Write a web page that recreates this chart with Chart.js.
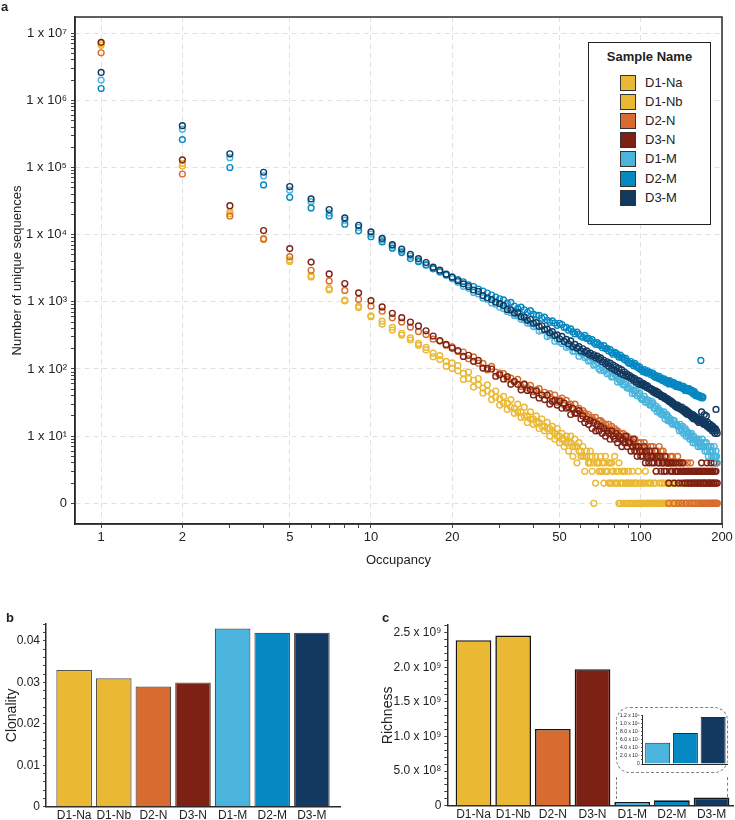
<!DOCTYPE html>
<html>
<head>
<meta charset="utf-8">
<title>Occupancy, clonality and richness</title>
<script src="https://cdn.jsdelivr.net/npm/chart.js@4.4.1/dist/chart.umd.min.js"></script>
<style>
  html, body { margin: 0; padding: 0; background: #fff; }
  body { font-family: "Liberation Sans", Arial, Helvetica, sans-serif; color: #222; }
  #fig { position: relative; width: 735px; height: 820px; overflow: hidden; }
  #fig canvas { position: absolute; }
  .tag { position: absolute; font-weight: bold; font-size: 13px; line-height: 13px; }
  #legend { position: absolute; left: 588px; top: 42px; width: 123px; height: 183px; box-sizing: border-box;
            border: 1.5px solid #222; background: #fff; }
  #legend .ttl { position: absolute; left: 0; right: 0; top: 6px; text-align: center; font-weight: bold; font-size: 13px; line-height: 16px; }
  #legend .sw { position: absolute; left: 31px; width: 16px; height: 16px; box-sizing: border-box; border: 1px solid #333; }
  #legend .lb { position: absolute; left: 56px; font-size: 13px; line-height: 16px; }
  #zoomBox { position: absolute; left: 616px; top: 707px; width: 112px; height: 66px; box-sizing: border-box;
             border: 1.5px dashed #808080; border-radius: 14px; }
  .lead { position: absolute; width: 0; border-left: 1.5px dashed #808080; }
</style>
</head>
<body>
<div id="fig">
  <canvas id="cA" width="735" height="575" style="left:0;top:0"></canvas>
  <canvas id="cB" width="365" height="220" style="left:0;top:600px"></canvas>
  <canvas id="cC" width="370" height="220" style="left:365px;top:600px"></canvas>
  <div id="zoomBox"></div>
  <div class="lead" style="left:616px;top:777px;height:22px"></div>
  <div class="lead" style="left:727px;top:777px;height:20px"></div>
  <canvas id="cI" width="118" height="64" style="left:612px;top:706px"></canvas>
  <div id="legend"><div class="ttl">Sample Name</div></div>
  <div class="tag" style="left:1px;top:0">a</div>
  <div class="tag" style="left:6px;top:611px">b</div>
  <div class="tag" style="left:382px;top:611px">c</div>
</div>
<script>
'use strict';

// ── Datos ──────────────────────────────────────────────
const occupancy = [
  1, 2, 3, 4, 5, 6, 7, 8, 9, 10,
  11, 12, 13, 14, 15, 16, 17, 18, 19, 20,
  21, 22, 23, 24, 25, 26, 27, 28, 29, 30,
  31, 32, 33, 34, 35, 36, 37, 38, 39, 40,
  41, 42, 43, 44, 45, 46, 47, 48, 49, 50,
  51, 52, 53, 54, 55, 56, 57, 58, 59, 60,
  61, 62, 63, 64, 65, 66, 67, 68, 69, 70,
  71, 72, 73, 74, 75, 76, 77, 78, 79, 80,
  81, 82, 83, 84, 85, 86, 87, 88, 89, 90,
  91, 92, 93, 94, 95, 96, 97, 98, 99, 100,
  101, 102, 103, 104, 105, 106, 107, 108, 109, 110,
  111, 112, 113, 114, 115, 116, 117, 118, 119, 120,
  121, 122, 123, 124, 125, 126, 127, 128, 129, 130,
  131, 132, 133, 134, 135, 136, 137, 138, 139, 140,
  141, 142, 143, 144, 145, 146, 147, 148, 149, 150,
  151, 152, 153, 154, 155, 156, 157, 158, 159, 160,
  161, 162, 163, 164, 165, 166, 167, 168, 169, 170,
  171, 172, 173, 174, 175, 176, 177, 178, 179, 180,
  181, 182, 183, 184, 185, 186, 187, 188, 189, 190,
  191, 192,
];

const d1Na = [
  7000000, 115000, 22000, 8800, 4200, 2450, 1580, 1060, 860, 620,
  515, 417, 340, 290, 240, 210, 172, 158, 130, 123,
  112, 86, 90, 68, 72, 52, 58, 43, 47, 36,
  39, 31, 35, 26, 30, 23, 27, 20, 23, 18,
  20, 16, 18, 14, 16, 13, 14, 11, 13, 10,
  11, 9, 10, 8, 10, 7, 9, 7, 8, 6,
  7, 5, 6, 4, 6, 5, 1, 5, 4, 4,
  5, 3, 4, 5, 3, 4, 2, 4, 3, 5,
  3, 2, 4, 1, 3, 2, 3, 1, 2, 3,
  2, 1, 3, 1, 2, 2, 1, 3, 1, 2,
  1, 2, 1, 3, 1, 2, 1, 1, 2, 1,
  1, 2, 1, 3, 1, 1, 2, 1, 1, 2,
  1, 1, 2, 1, 1, 1, 2, 1, 1, 2,
  1, 1, 1, 2, 1, 1, 1, 1, 2, 1,
  1, 1, 1, 2, 1, 1, 1, 1, 1, 2,
  1, 1, 1, 1, 1, 1, 2, 1, 1, 1,
  1, 1, 1, 1, 2, 1, 1, 1, 1, 1,
  1, 1, 1, 1, 2, 1, 1, 1, 1, 1,
  1, 1, 1, 1, 1, 1, 1, 1, 1, 1,
  1, 1,
];

const d1Nb = [
  6600000, 105000, 20500, 8500, 4000, 2350, 1500, 1030, 820, 600,
  467, 380, 320, 270, 225, 192, 152, 138, 110, 102,
  94, 70, 72, 54, 58, 44, 47, 35, 38, 29,
  31, 25, 27, 22, 23, 19, 20, 16, 18, 15,
  16, 13, 14, 12, 13, 10, 12, 9, 10, 8,
  9, 7, 8, 6, 8, 5, 7, 4, 6, 5,
  5, 3, 5, 4, 4, 3, 4, 2, 4, 3,
  3, 4, 2, 3, 3, 2, 4, 2, 3, 2,
  2, 3, 1, 2, 2, 1, 3, 2, 1, 2,
  1, 2, 2, 1, null, 2, 1, 1, 2, 1,
  1, 1, 2, null, 1, 1, 1, 2, 1, null,
  1, 1, 2, 1, 1, null, 1, 1, 1, 2,
  1, null, 1, 1, 2, 1, null, 1, 1, 1,
  1, 2, 1, null, 1, 1, 1, 1, null, 1,
  1, 1, null, 1, 1, 1, 2, 1, null, 1,
  1, 1, 1, null, 1, 1, 1, 2, 1, 1,
  null, 1, 1, 1, 1, null, 1, 1, 1, 2,
  1, null, 1, 1, 1, 1, 1, null, 1, 1,
  1, 1, null, 1, 1, 1, 1, null, 1, 1,
  1, 1,
];

const d2N = [
  5100000, 80000, 19000, 8600, 4700, 2950, 2050, 1480, 1090, 860,
  725, 578, 500, 420, 360, 325, 278, 260, 226, 214,
  182, 179, 142, 151, 122, 121, 97, 109, 90, 87,
  85, 71, 73, 65, 70, 55, 60, 53, 57, 46,
  49, 51, 41, 45, 40, 43, 36, 41, 32, 35,
  37, 29, 34, 29, 30, 25, 30, 25, 26, 22,
  24, 22, 20, 21, 18, 19, 17, 19, 15, 17,
  17, 16, 14, 15, 13, 15, 12, 14, 11, 13,
  12, 12, 10, 11, 9, 11, 10, 8, 10, 9,
  9, 9, 7, 8, 9, 7, 6, 8, 7, 8,
  7, 6, 8, 6, 5, 7, 6, 5, 7, 6,
  7, 5, 6, 5, 6, 5, 7, 5, 6, 5,
  6, 4, 5, 5, 4, 4, 1, 4, 5, 3,
  5, 4, 1, 4, 3, 3, 5, 1, 4, 3,
  4, 1, 3, 4, 3, 2, 1, 3, 4, 2,
  3, 1, 4, 2, 3, 1, 3, 2, 1, 3,
  2, 3, 1, 2, 3, 1, 2, 3, 1, 2,
  3, 1, 2, 2, 1, 3, 1, 2, 2, 1,
  2, 1, 3, 1, 2, 1, 2, 1, 1, 2,
  1, 1,
];

const d3N = [
  7300000, 130000, 27000, 11500, 6200, 3900, 2600, 1870, 1360, 1040,
  840, 675, 580, 500, 438, 370, 310, 265, 232, 205,
  188, 154, 160, 130, 134, 103, 102, 100, 78, 82,
  71, 77, 59, 65, 59, 49, 59, 48, 49, 41,
  47, 37, 41, 35, 41, 30, 33, 34, 29, 33,
  26, 31, 26, 27, 21, 26, 22, 22, 24, 18,
  20, 16, 18, 15, 17, 13, 16, 12, 15, 12,
  14, 11, 13, 10, 12, 11, 9, 12, 10, 9,
  11, 8, 10, 9, 7, 9, 8, 10, 7, 8,
  8, 6, 7, 9, 6, 7, 5, 7, 6, 5,
  6, 5, 7, 4, 6, 5, 4, 6, 5, 4,
  5, 4, 6, 3, 5, 4, 4, 5, 3, 4,
  4, 3, 5, 3, 4, 4, 2, 4, 3, 4,
  3, 4, 2, 3, 4, 3, 3, 2, 4, 3,
  3, 2, 4, 3, 3, 2, 3, 3, 2, 3,
  3, 2, 3, 2, 3, 3, 2, 3, 2, 3,
  3, 2, 3, 2, 3, 3, 2, 4, 3, 2,
  3, 2, 3, 3, 2, 4, 3, 2, 3, 2,
  3, 4, 2, 3, 3, 2, 4, 3, 2, 3,
  4, 2,
];

const d1M = [
  2000000, 370000, 140000, 75000, 46000, 31000, 21000, 16400, 12800, 10200,
  8300, 6800, 5700, 4800, 4100, 3600, 3150, 2800, 2480, 2200,
  1960, 1700, 1590, 1380, 1310, 1140, 1090, 960, 920, 830,
  790, 720, 690, 625, 615, 548, 540, 482, 478, 428,
  437, 367, 372, 387, 304, 316, 324, 259, 278, 252,
  240, 252, 210, 220, 227, 184, 184, 199, 155, 173,
  165, 148, 154, 131, 135, 143, 114, 118, 125, 100,
  95, 106, 94, 102, 85, 89, 94, 76, 77, 83,
  79, 64, 70, 64, 67, 58, 60, 64, 52, 53,
  51, 55, 43, 48, 44, 47, 40, 42, 44, 37,
  35, 36, 39, 32, 35, 32, 34, 29, 30, 33,
  31, 26, 26, 28, 23, 26, 23, 24, 21, 22,
  21, 23, 18, 20, 21, 17, 19, 17, 18, 16,
  15, 17, 17, 15, 15, 15, 14, 14, 12, 15,
  13, 12, 14, 11, 12, 13, 10, 12, 11, 10,
  11, 9, 10, 11, 9, 8, 10, 9, 8, 9,
  9, 8, 7, 9, 8, 7, 8, 7, 9, 7,
  7, 8, 6, 7, 8, 6, 7, 5, 7, 6,
  6, 7, 5, 6, 6, 5, 7, 5, 5, 6,
  5, 4,
];

const d2M = [
  1500000, 260000, 100000, 55000, 36000, 25000, 19000, 14300, 11400, 9300,
  7800, 6300, 5400, 4400, 3960, 3500, 3100, 2800, 2550, 2350,
  2150, 1990, 1790, 1690, 1550, 1450, 1350, 1260, 1180, 1110,
  1069, 953, 978, 865, 798, 832, 762, 698, 737, 658,
  631, 629, 568, 591, 530, 495, 521, 483, 447, 477,
  459, 414, 415, 377, 395, 356, 333, 354, 329, 307,
  297, 316, 285, 287, 262, 274, 248, 233, 246, 230,
  223, 207, 222, 201, 203, 185, 194, 176, 166, 177,
  172, 161, 150, 161, 147, 148, 137, 144, 131, 124,
  121, 129, 120, 112, 121, 110, 111, 103, 108, 98,
  96, 91, 98, 93, 87, 94, 87, 89, 82, 87,
  86, 78, 75, 80, 76, 72, 78, 71, 73, 68,
  67, 71, 66, 63, 68, 64, 60, 67, 61, 63,
  63, 58, 62, 58, 55, 59, 57, 54, 58, 54,
  53, 55, 51, 55, 50, 48, 52, 50, 47, 51,
  51, 47, 48, 45, 48, 44, 42, 46, 43, 40,
  42, 40, 41, 39, 40, 38, 134, 39, 37, 38,
  null, null, null, null, null, null, null, null, null, null,
  null, null, null, null, null, null, null, null, null, null,
  null, null,
];

const d3M = [
  2600000, 420000, 160000, 85000, 52000, 34000, 23700, 17800, 13800, 11000,
  8800, 7100, 6100, 5100, 4400, 3850, 3280, 2960, 2580, 2320,
  2060, 1850, 1690, 1500, 1430, 1240, 1150, 1080, 990, 940,
  885, 770, 760, 680, 690, 600, 590, 530, 545, 480,
  490, 430, 440, 385, 392, 345, 360, 315, 322, 282,
  305, 258, 275, 236, 262, 214, 232, 205, 215, 186,
  200, 178, 186, 165, 172, 156, 163, 147, 155, 140,
  146, 128, 135, 120, 128, 110, 122, 102, 114, 97,
  108, 92, 102, 86, 97, 82, 90, 79, 84, 76,
  80, 72, 75, 68, 72, 64, 68, 60, 66, 58,
  59, 61, 56, 58, 53, 56, 51, 52, 49, 50,
  46, 48, 44, 47, 42, 45, 41, 42, 39, 40,
  38, 39, 36, 37, 35, 36, 33, 34, 32, 33,
  30, 31, 30, 28, 29, 27, 29, 26, 27, 26,
  25, 27, 24, 25, 23, 25, 22, 24, 21, 23,
  21, 22, 20, 21, 19, 21, 18, 20, 19, 18,
  19, 17, 18, 16, 18, 17, 16, 23, 17, 16,
  15, 21, 16, 15, 20, 14, 16, 14, 15, 13,
  15, 13, 14, 12, 14, 12, 13, 11, 13, 25,
  12, 11,
];

const sampleNames  = ['D1-Na', 'D1-Nb', 'D2-N', 'D3-N', 'D1-M', 'D2-M', 'D3-M'];
const sampleColors = ['#EAB832', '#EAB832', '#D86C30', '#7D2114', '#4AB4DC', '#0688C2', '#123A60'];
const clonality = [0.033, 0.031, 0.029, 0.030, 0.043, 0.042, 0.042];
const richness  = [2.39e9, 2.457e9, 1.108e9, 1.971e9, 5.3e7, 7.7e7, 1.17e8];

// marcas de eje
const xMajor = [1, 2, 5, 10, 20, 50, 100, 200];
const xMajorLabels = ['1', '2', '5', '10', '20', '50', '100', '200'];
const xMinor = [3, 4, 6, 7, 8, 9, 30, 40, 60, 70, 80, 90];
const yMajor = [1, 1e1, 1e2, 1e3, 1e4, 1e5, 1e6, 1e7];
const yMajorLabels = ['0', '1 x 10¹', '1 x 10²', '1 x 10³', '1 x 10⁴', '1 x 10⁵', '1 x 10⁶', '1 x 10⁷'];
const clonLabels  = ['0', '0.01', '0.02', '0.03', '0.04'];
const richLabels  = ['0', '5.0 x 10⁸', '1.0 x 10⁹', '1.5 x 10⁹', '2.0 x 10⁹', '2.5 x 10⁹'];
const insetLabels = ['0', '2.0 x 10⁷', '4.0 x 10⁷', '6.0 x 10⁷', '8.0 x 10⁷', '1.0 x 10⁸', '1.2 x 10⁸'];

// ── Config general ─────────────────────────────────────
Chart.defaults.font.family = '"Liberation Sans", Arial, Helvetica, sans-serif';
Chart.defaults.color = '#222';
const TXT = '#222';
const AXIS = '#2b2b2b';

const marco = {
  id: 'marco',
  afterDraw(ch) {
    const a = ch.chartArea, c = ch.ctx;
    c.save();
    c.strokeStyle = AXIS; c.lineWidth = 1.5;
    c.strokeRect(a.left, a.top, a.right - a.left, a.bottom - a.top);
    c.restore();
  },
};

// ── a. Ocupación (log-log) ─────────────────────────────
const seriesA = [d1Na, d1Nb, d2N, d3N, d1M, d2M, d3M];
const yMinor = [];
for (let k = 0; k < 7; k++) for (let m = 2; m <= 9; m++) yMinor.push(m * Math.pow(10, k));

const gridMajor = c => (c.tick && c.tick.major ? '#e0e0e0' : 'rgba(0,0,0,0)');

new Chart(document.getElementById('cA'), {
  type: 'scatter',
  data: {
    datasets: seriesA.map((s, k) => ({
      label: sampleNames[k],
      data: occupancy.map((x, i) => ({ x, y: s[i] })).filter(p => p.y != null),
      borderColor: sampleColors[k],
      backgroundColor: 'rgba(0,0,0,0)',
      pointRadius: 2.9, pointHoverRadius: 2.9, pointBorderWidth: 1.4,
      order: seriesA.length - k,
    })),
  },
  options: {
    responsive: false, animation: false,
    layout: { padding: { left: 0, top: 17, right: 13, bottom: 0 } },
    plugins: { legend: { display: false }, tooltip: { enabled: false } },
    scales: {
      x: {
        type: 'logarithmic', min: 0.8, max: 200,
        afterBuildTicks: s => {
          s.ticks = [...xMajor, ...xMinor].sort((a, b) => a - b).map(v => ({ value: v, major: xMajor.includes(v) }));
        },
        afterFit: s => { s.height = 51; },
        ticks: {
          autoSkip: false, maxRotation: 0, padding: 2, color: TXT, font: { size: 13 },
          callback: v => { const j = xMajor.indexOf(v); return j < 0 ? '' : xMajorLabels[j]; },
        },
        grid: { color: gridMajor, tickColor: '#444', tickLength: 4, lineWidth: 1 },
        border: { color: AXIS, width: 1.5, dash: [5, 4] },
        title: { display: true, text: 'Occupancy', color: TXT, font: { size: 13 }, padding: { top: 0, bottom: 7 } },
      },
      y: {
        type: 'logarithmic', min: 0.492, max: 1.74e7,
        afterBuildTicks: s => {
          s.ticks = [...yMajor, ...yMinor].sort((a, b) => a - b).map(v => ({ value: v, major: yMajor.includes(v) }));
        },
        afterFit: s => { s.width = 75; },
        ticks: {
          autoSkip: false, padding: 4, color: TXT, font: { size: 13 },
          callback: v => { const j = yMajor.indexOf(v); return j < 0 ? '' : yMajorLabels[j]; },
        },
        grid: { color: gridMajor, tickColor: '#444', tickLength: 4, lineWidth: 1 },
        border: { color: AXIS, width: 1.5, dash: [5, 4] },
        title: { display: true, text: 'Number of unique sequences', color: TXT, font: { size: 13 }, padding: { top: 10, bottom: 0 } },
      },
    },
  },
  plugins: [marco],
});

// leyenda dentro del panel a
const leg = document.getElementById('legend');
sampleNames.forEach((n, i) => {
  const top = 31.5 + i * 19.2;
  leg.insertAdjacentHTML('beforeend',
    `<div class="sw" style="top:${top}px;background:${sampleColors[i]}"></div>` +
    `<div class="lb" style="top:${top}px">${n}</div>`);
});

// ── b / c. Barras ──────────────────────────────────────
const pasos = (step, n, every) => Array.from({ length: n + 1 }, (_, j) => ({ value: j * step, major: j % every === 0 }));

function barras(id, cfg) {
  return new Chart(document.getElementById(id), {
    type: 'bar',
    data: {
      datasets: [{
        data: cfg.values.map((v, i) => ({ x: i, y: v })),
        backgroundColor: cfg.colors,
        borderColor: cfg.edge, borderWidth: cfg.edgeW, borderSkipped: 'bottom',
        barPercentage: cfg.barPct, categoryPercentage: 1,
      }],
    },
    options: {
      responsive: false, animation: false,
      layout: { padding: cfg.pad },
      plugins: { legend: { display: false }, tooltip: { enabled: false } },
      scales: {
        x: {
          type: 'linear', min: cfg.xMin, max: cfg.xMax, offset: false,
          afterBuildTicks: s => { s.ticks = cfg.values.map((_, i) => ({ value: i })); },
          afterFit: s => { s.height = cfg.xH; },
          ticks: {
            display: !!cfg.names, autoSkip: false, maxRotation: 0, padding: 2, color: TXT, font: { size: 12 },
            callback: v => (cfg.names ? cfg.names[v] : ''),
          },
          grid: { display: false, drawTicks: false, offset: false },
          border: { color: AXIS, width: cfg.axisW },
        },
        y: {
          min: 0, max: cfg.yMax,
          afterBuildTicks: s => { s.ticks = pasos(cfg.step, cfg.nSteps, cfg.every); },
          afterFit: s => { s.width = cfg.yW; },
          ticks: {
            autoSkip: false, padding: cfg.tickPad, color: TXT, font: { size: cfg.tickFont },
            callback: (v, i) => (i % cfg.every === 0 ? cfg.labels[i / cfg.every] : ''),
          },
          grid: { drawOnChartArea: false, tickColor: '#444', tickLength: cfg.tickLen, lineWidth: 1 },
          border: { color: AXIS, width: cfg.axisW },
          title: cfg.title
            ? { display: true, text: cfg.title, color: TXT, font: { size: 14 }, padding: { top: cfg.titlePad, bottom: 0 } }
            : { display: false },
        },
      },
    },
  });
}

barras('cB', {
  values: clonality, colors: sampleColors, names: sampleNames,
  edge: 'rgba(60,52,40,0.85)', edgeW: 1.2, barPct: 0.9,
  pad: { left: 0, top: 24, right: 25, bottom: 0 },
  xMin: -0.71, xMax: 6.71, xH: 13.3, yW: 46, axisW: 1.5,
  yMax: 0.0441, step: 0.002, nSteps: 22, every: 5, labels: clonLabels,
  tickPad: 3, tickFont: 12, tickLen: 3,
  title: 'Clonality', titlePad: 3.6,
});

barras('cC', {
  values: richness, colors: sampleColors, names: sampleNames,
  edge: '#161616', edgeW: 1.6, barPct: 0.9,
  pad: { left: 0, top: 25, right: 2, bottom: 0 },
  xMin: -0.66, xMax: 6.54, xH: 14.3, yW: 82.3, axisW: 1.5,
  yMax: 2.61e9, step: 1e8, nSteps: 26, every: 5, labels: richLabels,
  tickPad: 3, tickFont: 12, tickLen: 3,
  title: 'Richness', titlePad: 14.6,
});

// recuadro ampliado: solo las muestras de memoria
barras('cI', {
  values: richness.slice(4), colors: sampleColors.slice(4), names: null,
  edge: '#2a2a2a', edgeW: 1, barPct: 0.9,
  pad: { left: 0, top: 9, right: 3, bottom: 0 },
  xMin: -0.54, xMax: 2.5, xH: 6, yW: 30.7, axisW: 1,
  yMax: 1.22e8, step: 1e7, nSteps: 12, every: 2, labels: insetLabels,
  tickPad: 1.5, tickFont: 5, tickLen: 1.5,
  title: null,
});
</script>
</body>
</html>
